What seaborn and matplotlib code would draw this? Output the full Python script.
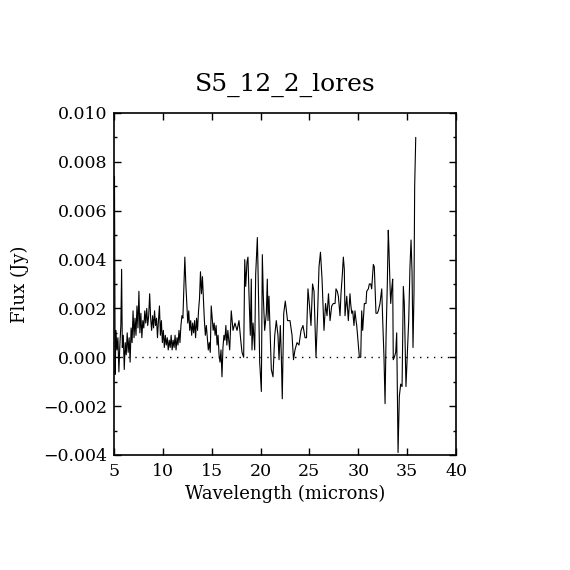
import numpy as np
import pandas as pd
import matplotlib
matplotlib.use('Agg')
import matplotlib.pyplot as plt
import seaborn as sns
from matplotlib.ticker import MultipleLocator, FuncFormatter

# spectrum
wave_sl = [5.05, 5.12, 5.2, 5.3, 5.4, 5.5, 5.6, 5.7, 5.78, 5.85, 5.95, 6.05, 6.15, 6.25,
           6.35, 6.45, 6.55, 6.65, 6.75, 6.85, 6.95, 7.05, 7.15, 7.25, 7.35, 7.45, 7.55,
           7.65, 7.75, 7.85, 7.95, 8.05, 8.15, 8.25, 8.35, 8.45, 8.55, 8.65, 8.75, 8.85,
           8.95, 9.05, 9.15, 9.25, 9.35, 9.45, 9.55, 9.65, 9.75, 9.85, 9.95, 10.05, 10.15,
           10.25, 10.35, 10.45, 10.55, 10.65, 10.75, 10.85, 10.95, 11.05, 11.15, 11.25,
           11.35, 11.45, 11.55, 11.65, 11.75, 11.85, 11.95, 12.05, 12.15, 12.25, 12.35,
           12.45, 12.55, 12.65, 12.75, 12.85, 12.95, 13.05, 13.15, 13.25, 13.35, 13.45,
           13.55, 13.65, 13.75, 13.85, 13.95, 14.05, 14.15, 14.25, 14.35, 14.45, 14.55,
           14.65, 14.75, 14.85, 14.95, 15.05, 15.15, 15.25, 15.35, 15.45, 15.55, 15.65,
           15.75, 15.85, 15.95, 16.05, 16.15, 16.25, 16.35, 16.45, 16.55, 16.65]
flux_sl = [0.0074, -0.0007, 0.0011, 0.0003, 0.0008, -0.0006, 0.0005, 0.0013, 0.0036, 0.0004,
           0.0009, -0.0005, 0.0006, 0.0001, 0.0010, 0.0002, 0.0008, -0.0002, 0.0012, 0.0006,
           0.0019, 0.0008, 0.0016, 0.0009, 0.0021, 0.0012, 0.0027, 0.0010, 0.0018, 0.0008,
           0.0015, 0.0012, 0.0019, 0.0014, 0.0020, 0.0013, 0.0017, 0.0026, 0.0016, 0.0011,
           0.0017, 0.0012, 0.0019, 0.0013, 0.0016, 0.0008, 0.0015, 0.0021, 0.0009, 0.0015,
           0.0006, 0.0011, 0.0004, 0.0009, 0.0005, 0.0008, 0.0003, 0.0007, 0.0004, 0.0009,
           0.0003, 0.0007, 0.0004, 0.0009, 0.0003, 0.0008, 0.0005, 0.0011, 0.0006, 0.0013,
           0.0017, 0.0016, 0.0028, 0.0041, 0.0030, 0.0022, 0.0014, 0.0019, 0.0011, 0.0015,
           0.0009, 0.0014, 0.0010, 0.0015, 0.0008, 0.0016, 0.0011, 0.0019, 0.0024, 0.0035,
           0.0026, 0.0033, 0.0024, 0.0015, 0.0009, 0.0013, 0.0008, 0.0003, 0.0006, 0.0002,
           0.0021, 0.0016, 0.0011, 0.0014, 0.0009, 0.0013, 0.0005, 0.0009, 0.0001, -0.0002,
           0.0003, -0.0008, 0.0004, 0.0009, 0.0007, 0.0013, 0.0005, 0.0011]

wave_ll = [16.84, 17.0, 17.18, 17.38, 17.59, 17.79, 17.97, 18.1, 18.27, 18.38, 18.48, 18.61,
           18.71, 18.82, 18.95, 19.05, 19.12, 19.23, 19.4, 19.5, 19.67, 19.74, 19.91, 20.08,
           20.18, 20.28, 20.42, 20.59, 20.69, 20.76, 20.86, 21.0, 21.1, 21.27, 21.45, 21.61,
           21.78, 21.89, 22.02, 22.12, 22.22, 22.37, 22.53, 22.76, 23.01, 23.22, 23.37,
           23.52, 23.73, 23.93, 24.14, 24.34, 24.55, 24.7, 24.85, 25.01, 25.16, 25.32,
           25.47, 25.67, 25.83, 25.98, 26.13, 26.29, 26.49, 26.65, 26.8, 26.95, 27.11,
           27.28, 27.44, 27.62, 27.72, 27.85, 27.96, 28.13, 28.23, 28.37, 28.47, 28.57,
           28.64, 28.82, 28.98, 29.15, 29.22, 29.33, 29.43, 29.56, 29.66, 29.77, 29.84,
           30.0, 30.11, 30.25, 30.35, 30.45, 30.62, 30.79, 30.86, 31.03, 31.13, 31.27,
           31.37, 31.54, 31.64, 31.81, 31.95, 32.05, 32.22, 32.4, 32.5, 32.63, 32.74,
           32.84, 32.97, 33.07, 33.14, 33.25, 33.32, 33.42, 33.52, 33.58, 33.69, 33.83,
           33.93, 34.07, 34.2, 34.34, 34.48, 34.61, 34.71, 34.88, 35.02, 35.16, 35.29,
           35.4, 35.5, 35.6, 35.7, 35.77, 35.88]
flux_ll = [0.0003, 0.0019, 0.0011, 0.0014, 0.0011, 0.0015, 0.0007, 0.0002, 0.0000, 0.0040,
           0.0029, 0.0039, 0.0041, 0.0025, 0.0009, 0.0032, 0.0003, 0.0014, 0.0003, 0.0034,
           0.0049, 0.0036, -0.0002, -0.0014, 0.0042, 0.0025, 0.0011, 0.0018, 0.0032, 0.0015,
           0.0025, 0.0007, -0.0005, -0.0008, 0.0009, 0.0015, 0.0009, -0.0001, 0.0013, 0.0001,
           -0.0017, 0.0018, 0.0023, 0.0015, 0.0015, 0.0009, -0.0001, 0.0003, 0.0006, 0.0005,
           0.0011, 0.0013, 0.0008, 0.0008, 0.0028, 0.0021, 0.0013, 0.0030, 0.0027, 0.0000,
           0.0017, 0.0037, 0.0043, 0.0032, 0.0011, 0.0022, 0.0017, 0.0026, 0.0015, 0.0021,
           0.0022, 0.0022, 0.0028, 0.0027, 0.0025, 0.0017, 0.0026, 0.0034, 0.0041, 0.0036,
           0.0017, 0.0025, 0.0015, 0.0026, 0.0022, 0.0018, 0.0019, 0.0013, 0.0019, 0.0015,
           0.0013, 0.0005, 0.0000, 0.0000, 0.0019, 0.0011, 0.0022, 0.0022, 0.0027, 0.0028,
           0.0030, 0.0030, 0.0028, 0.0038, 0.0037, 0.0018, 0.0018, 0.0019, 0.0022, 0.0028,
           0.0015, 0.0000, -0.0019, 0.0008, 0.0030, 0.0052, 0.0044, 0.0029, 0.0022, 0.0028,
           0.0032, -0.0001, 0.0000, 0.0002, 0.0010, -0.0039, -0.0016, -0.0011, -0.0012,
           0.0029, 0.0022, -0.0012, 0.0002, 0.0015, 0.0037, 0.0048, 0.0035, 0.0004, 0.0026,
           0.0070, 0.0090]

title = 'S5_12_2_lores'
x_ticks = [5, 10, 15, 20, 25, 30, 35, 40]

df = pd.DataFrame({'wave': wave_sl + wave_ll, 'flux': flux_sl + flux_ll})

sns.set_style('ticks')
plt.rcParams['font.family'] = ['DejaVu Serif']
plt.rcParams['text.color'] = 'black'
plt.rcParams['axes.labelcolor'] = 'black'

fig = plt.figure(figsize=(5.7, 5.7), dpi=100)
ax = fig.add_axes([0.2, 0.2018, 0.6, 0.6])

sns.lineplot(data=df, x='wave', y='flux', sort=False, estimator=None,
             color='black', linewidth=0.8, ax=ax)
ax.axhline(0, color='black', linewidth=1.0, linestyle=(0, (1, 4)))

ax.set_xlim(5, 40)
ax.set_ylim(-0.004, 0.010)
ax.set_xticks(x_ticks)
ax.yaxis.set_major_locator(MultipleLocator(0.002))
ax.yaxis.set_minor_locator(MultipleLocator(0.001))
ax.yaxis.set_major_formatter(FuncFormatter(lambda v, p: ('%.3f' % v).replace('-', '\u2212')))

for s in ax.spines.values():
    s.set_visible(True)
    s.set_linewidth(1.2)
    s.set_color('black')
ax.tick_params(which='both', direction='in', top=True, right=True,
               color='black', width=1.0, labelsize=12.5, labelcolor='black')
ax.tick_params(which='major', length=5)
ax.tick_params(which='minor', length=2.5)
ax.tick_params(axis='x', pad=6)
ax.tick_params(axis='y', pad=5)

ax.set_xlabel('Wavelength (microns)', fontsize=13, labelpad=3, color='black')
ax.set_ylabel('Flux (Jy)', fontsize=13, labelpad=10, color='black')
ax.set_title(title, fontsize=18, pad=16, color='black')

fig.savefig('out.png', dpi=100, facecolor='white')
